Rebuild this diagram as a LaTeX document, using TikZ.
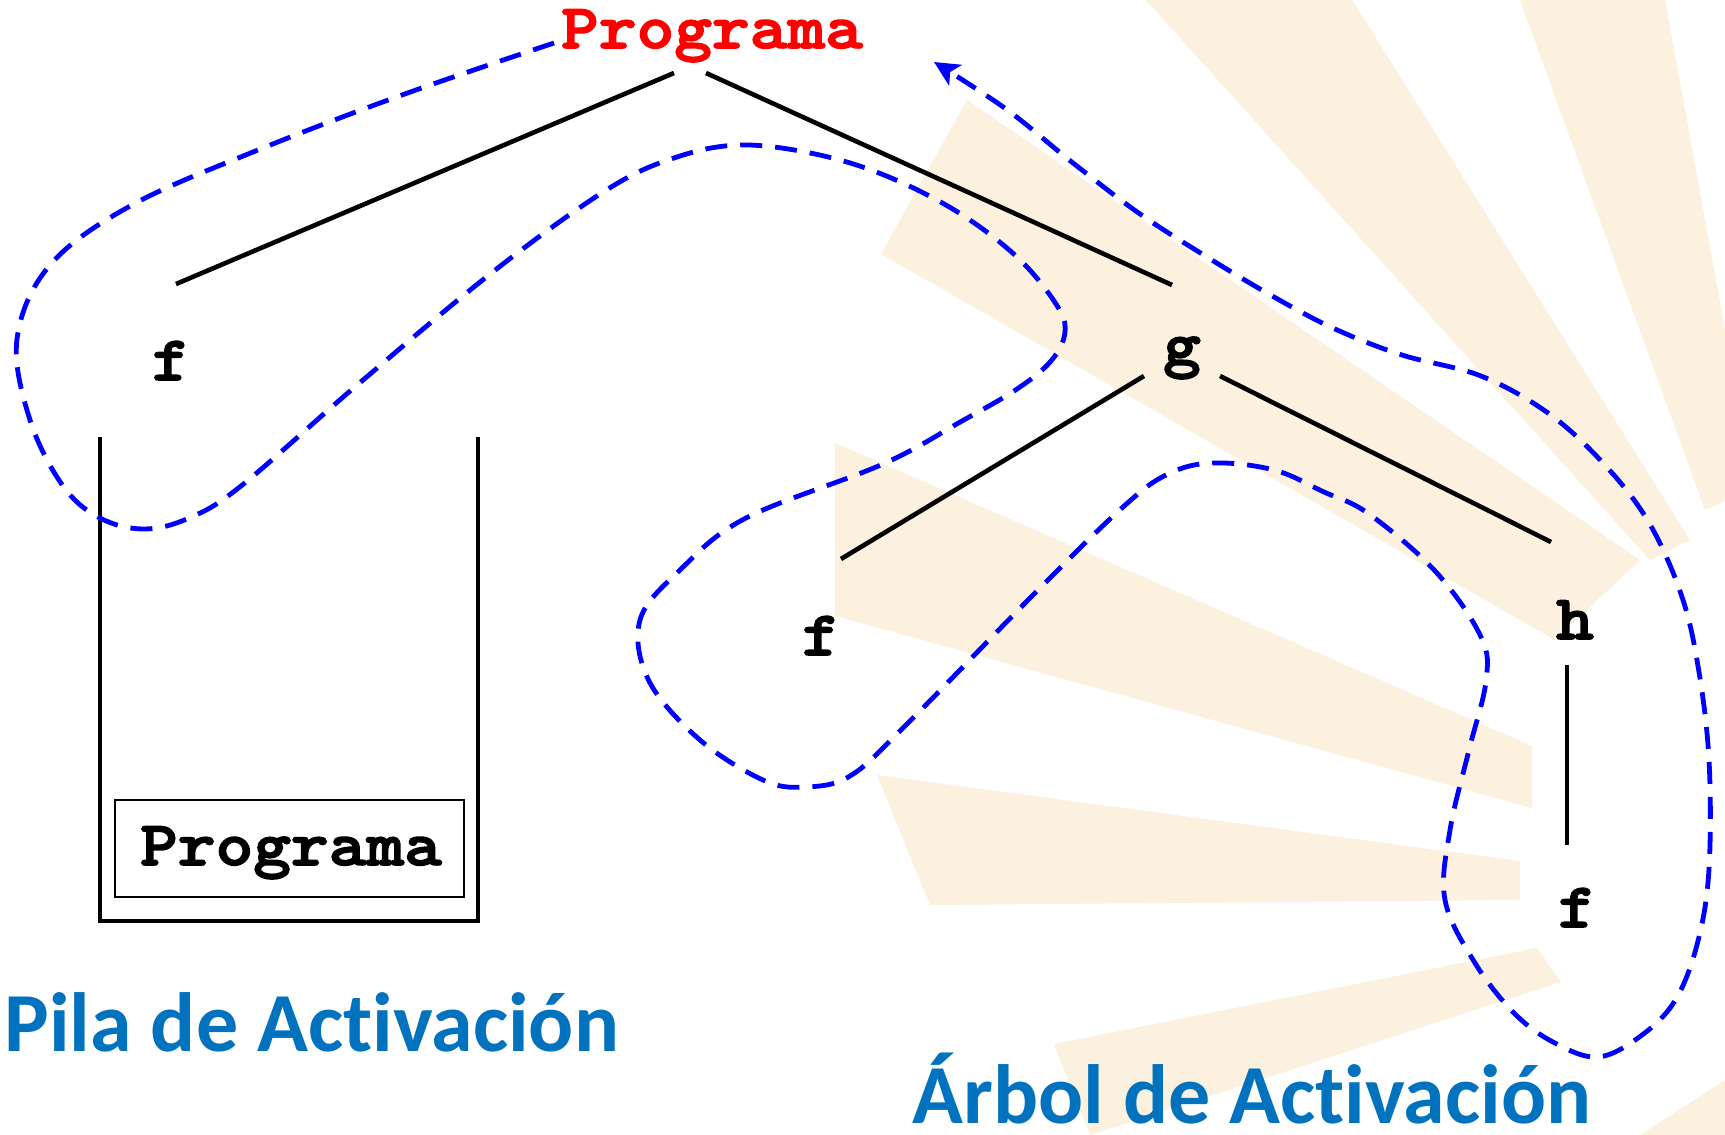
\documentclass[tikz,border=0pt]{standalone}
\usepackage{fontspec}
\usepackage{graphicx}
\newfontfamily\codefont{lmmonolt10-bold.otf}[FakeStretch=1.14,FakeBold=2.5]
\newfontfamily\titlefont{Carlito}[Ligatures=NoCommon]
\usetikzlibrary{arrows.meta}
\definecolor{titleblue}{RGB}{0,114,190}
\definecolor{raycol}{RGB}{252,241,222}
\begin{document}
\begin{tikzpicture}[x=0.5pt,y=-0.5pt,
  tree/.style={line width=2.3pt},
  stackline/.style={line width=2.2pt},
  code/.style={font=\codefont\fontsize{31.5}{36}\selectfont, inner sep=0pt, anchor=base},
  titletext/.style={font=\titlefont\bfseries\fontsize{42}{48}\selectfont, text=titleblue, inner sep=0pt, anchor=base west},
  walk/.style={blue, dash pattern=on 11pt off 6.5pt, line width=2.4pt},
  ray/.style={fill=raycol, draw=none},
  boxframe/.style={draw, line width=1pt, minimum width=174.5pt, minimum height=48.5pt, inner sep=0pt}]
\useasboundingbox (0,0) rectangle (1725,1135);
\fill[white] (0,0) rectangle (1725,1135);
% background rays
\fill[ray] (881,254) -- (967,100) -- (1640,560) -- (1555,640) -- cycle;
\fill[ray] (1146,0) -- (1352,0) -- (1690,540) -- (1650,560) -- cycle;
\fill[ray] (1520,0) -- (1665,0) -- (1725,330) -- (1725,500) -- (1705,510) -- cycle;
\fill[ray] (835,443) -- (835,616) -- (1532,808) -- (1532,746) -- cycle;
\fill[ray] (877,775) -- (930,905) -- (1520,900) -- (1520,861) -- cycle;
\fill[ray] (1054,1044) -- (1090,1135) -- (1561,982) -- (1537,948) -- cycle;
\fill[ray] (1640,1135) -- (1725,1080) -- (1725,1135) -- cycle;
% nodes
\node[code, text=red] (prog) at (712,48) {Programa};
\node[code] (f1) at (171,380) {f};
\node[code] (g) at (1182,365) {g};
\node[code] (f2) at (821,655) {f};
\node[code] (h) at (1575,639) {h};
\node[code] (f3) at (1577,927) {f};
% edge endpoints
\coordinate (e1s) at (674,73); \coordinate (e1t) at (176,284);
\coordinate (e2s) at (706,73); \coordinate (e2t) at (1172,285);
\coordinate (e3s) at (1144,376); \coordinate (e3t) at (841,559);
\coordinate (e4s) at (1220,376); \coordinate (e4t) at (1551,542);
\coordinate (e5s) at (1567,665); \coordinate (e5t) at (1567,845);
\draw[tree] (e1s) -- (e1t);
\draw[tree] (e2s) -- (e2t);
\draw[tree] (e3s) -- (e3t);
\draw[tree] (e4s) -- (e4t);
\draw[tree] (e5s) -- (e5t);
% stack
\draw[stackline] (100,437) -- (100,921) -- (478,921) -- (478,437);
\node[boxframe] (pbox) at (289.5,848.5) {};
\node[code] (ptext) at (291,865) {Programa};
% titles
\node[titletext] (pila) at (4,1051) {Pila de Activación};
\node[titletext] (arbol) at (912,1123) {Árbol de Activación};
% traversal
\draw[walk, -{Stealth[length=12.5pt,width=12pt,inset=3pt]}] plot[smooth, tension=0.6] coordinates {
(554,43) (402,95) (258,150) (132,205) (50,265) (17,339) (30,420) (63,486) (100,518) (144,529) (189,518) (241,486) (356,386) (494,271) (608,189) (677,157) (741,145) (815,154) (884,175) (956,211) (1017,257) (1056,304) (1065,332) (1051,361) (1017,389) (962,421) (883,464) (746,518) (680,570) (640,620) (649,681) (700,740) (763,780) (804,787) (850,776) (906,725) (1034,594) (1123,507) (1168,474) (1213,463) (1274,470) (1324,492) (1369,514) (1436,572) (1481,637) (1486,681) (1469,750) (1450,830) (1445,900) (1475,963) (1514,1013) (1553,1042) (1598,1057) (1642,1035) (1676,999) (1698,941) (1709,869) (1709,760) (1698,666) (1681,594) (1648,521) (1603,463) (1548,413) (1481,376) (1402,355) (1335,329) (1274,297) (1207,257) (1140,214) (1073,163) (1006,109) (934,62)};
\end{tikzpicture}
\end{document}
